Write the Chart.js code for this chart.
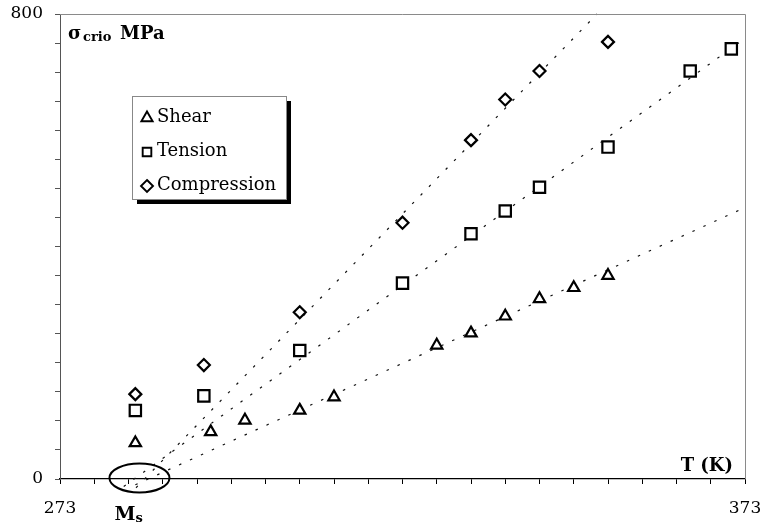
<!DOCTYPE html>
<html>
<head>
<meta charset="utf-8">
<title>σcrio vs T</title>
<script src="https://cdn.jsdelivr.net/npm/chart.js@4/dist/chart.umd.min.js"></script>
<style>
  html, body { margin: 0; padding: 0; background: #fff; }
  #wrap { width: 764px; height: 525px; }
</style>
</head>
<body>
<div id="wrap"><canvas id="stressChart"></canvas></div>
<script>
const seriesNames = ['Shear', 'Tension', 'Compression'];

const shearT = [284, 295, 300, 308, 313, 328, 333, 338, 343, 348, 353];
const shearS = [62, 81, 101, 118, 141, 230, 251, 280, 310, 329, 350];

const tensionT = [284, 294, 308, 323, 333, 338, 343, 353, 365, 371];
const tensionS = [118, 143, 221, 337, 422, 461, 502, 571, 702, 740];

const compT = [284, 294, 308, 323, 333, 338, 343, 353];
const compS = [146, 196, 287, 441, 583, 653, 702, 752];

// ends of the dotted trend lines
const shearFitT = [284, 373];
const shearFitS = [-10, 467];
const tensionFitT = [282.3, 373];
const tensionFitS = [-13, 758];
const compFitT = [284.1, 351.4];
const compFitS = [-15, 800];

const xTickLabels = [273, 373];
const yTickLabels = [0, 800];
const msT = 284.6; // Ms temperature, circled on the axis

const SERIF = '"DejaVu Serif", "Liberation Serif", serif';

function toPoints(xs, ys) {
    return xs.map((x, i) => ({ x: x, y: ys[i] }));
}

function markerSet(label, xs, ys, style, radius) {
    return {
        type: 'scatter',
        label: label,
        data: toPoints(xs, ys),
        pointStyle: style,
        pointRadius: radius,
        pointHoverRadius: radius,
        borderColor: '#000',
        backgroundColor: '#fff',
        pointBorderWidth: 2.2,
        showLine: false
    };
}

function fitSet(xs, ys) {
    return {
        type: 'line',
        label: '',
        data: toPoints(xs, ys),
        borderColor: '#111',
        borderWidth: 1.2,
        borderDash: [2.5, 9.5],
        pointRadius: 0,
        fill: false,
        clip: false
    };
}

// labels sit at the axis ends, don't let them push the plot area in
function noEdgePadding(scale) {
    scale.paddingTop = 0;
    scale.paddingBottom = 0;
    scale.paddingLeft = 0;
    scale.paddingRight = 0;
}

function drawGlyph(ctx, style, x, y, r) {
    ctx.beginPath();
    if (style === 'triangle') {
        ctx.moveTo(x, y - r);
        ctx.lineTo(x + r * 0.866, y + r * 0.5);
        ctx.lineTo(x - r * 0.866, y + r * 0.5);
        ctx.closePath();
    } else if (style === 'rect') {
        ctx.rect(x - r * 0.72, y - r * 0.72, r * 1.44, r * 1.44);
    } else {
        ctx.moveTo(x, y - r);
        ctx.lineTo(x + r, y);
        ctx.lineTo(x, y + r);
        ctx.lineTo(x - r, y);
        ctx.closePath();
    }
    ctx.fillStyle = '#fff';
    ctx.fill();
    ctx.stroke();
}

const decorPlugin = {
    id: 'decor',
    afterDraw(chart) {
        const { ctx, chartArea: a, scales } = chart;
        ctx.save();

        // light frame on top and right
        ctx.strokeStyle = '#8a8a8a';
        ctx.lineWidth = 1;
        ctx.beginPath();
        ctx.moveTo(a.left, a.top + 0.5);
        ctx.lineTo(a.right + 0.5, a.top + 0.5);
        ctx.lineTo(a.right + 0.5, a.bottom);
        ctx.stroke();

        // y title
        ctx.fillStyle = '#000';
        ctx.textBaseline = 'alphabetic';
        ctx.textAlign = 'left';
        ctx.font = 'bold 18px ' + SERIF;
        ctx.fillText('σ', 68, 39);
        ctx.font = 'bold 13px ' + SERIF;
        ctx.fillText('crio', 83, 41);
        ctx.font = 'bold 18px ' + SERIF;
        ctx.fillText('MPa', 120, 39);

        // x title
        ctx.textAlign = 'right';
        ctx.fillText('T (K)', 733, 471);

        // Ms ellipse and label
        const mx = scales.x.getPixelForValue(msT);
        const my = scales.y.getPixelForValue(0);
        ctx.strokeStyle = '#000';
        ctx.lineWidth = 2;
        ctx.beginPath();
        ctx.ellipse(mx, my - 1, 30, 14.5, 0, 0, Math.PI * 2);
        ctx.stroke();
        ctx.textAlign = 'left';
        ctx.font = 'bold 19px ' + SERIF;
        ctx.fillText('M', mx - 25, 520);
        const mw = ctx.measureText('M').width;
        ctx.font = 'bold 13px ' + SERIF;
        ctx.fillText('s', mx - 25 + mw, 522);

        // legend box with shadow
        const bx = 132, by = 96, bw = 154, bh = 103;
        ctx.fillStyle = '#000';
        ctx.fillRect(bx + 5, by + 5, bw, bh);
        ctx.fillStyle = '#fff';
        ctx.fillRect(bx, by, bw, bh);
        ctx.strokeStyle = '#888';
        ctx.lineWidth = 1;
        ctx.strokeRect(bx + 0.5, by + 0.5, bw, bh);

        const styles = ['triangle', 'rect', 'rectRot'];
        ctx.font = '18px ' + SERIF;
        ctx.textBaseline = 'middle';
        seriesNames.forEach((name, i) => {
            const cy = 117 + i * 34;
            ctx.strokeStyle = '#000';
            ctx.lineWidth = 1.9;
            drawGlyph(ctx, styles[i], 147, cy + 1, i === 0 ? 6.5 : 6);
            ctx.fillStyle = '#000';
            ctx.fillText(name, 157, cy);
        });

        ctx.restore();
    }
};

function initChart() {
    const canvas = document.getElementById('stressChart');
    if (!canvas) return;

    new Chart(canvas.getContext('2d'), {
        data: getChartData(),
        options: getChartOptions(),
        plugins: [decorPlugin]
    });
}

function getChartData() {
    return {
        datasets: [
            markerSet(seriesNames[0], shearT, shearS, 'triangle', 6.5),
            markerSet(seriesNames[1], tensionT, tensionS, 'rect', 8),
            markerSet(seriesNames[2], compT, compS, 'rectRot', 6),
            fitSet(shearFitT, shearFitS),
            fitSet(tensionFitT, tensionFitS),
            fitSet(compFitT, compFitS)
        ]
    };
}

function getChartOptions() {
    return {
        responsive: true,
        maintainAspectRatio: false,
        animation: false,
        layout: { padding: { top: 14, right: 19, left: 0, bottom: 0 } },
        plugins: {
            legend: { display: false },
            tooltip: { enabled: false }
        },
        scales: {
            x: {
                type: 'linear',
                min: 273,
                max: 373,
                afterFit: (scale) => { scale.height = 46; noEdgePadding(scale); },
                ticks: {
                    stepSize: 5,
                    autoSkip: false,
                    maxRotation: 0,
                    padding: 14,
                    color: '#000',
                    font: { family: SERIF, size: 17 },
                    callback: (v) => xTickLabels.includes(v) ? String(v) : ''
                },
                grid: { drawOnChartArea: false, tickLength: 5, color: '#000' },
                border: { color: '#000', width: 1.3 }
            },
            y: {
                type: 'linear',
                min: 0,
                max: 800,
                afterFit: (scale) => { scale.width = 60; noEdgePadding(scale); },
                ticks: {
                    stepSize: 50,
                    autoSkip: false,
                    padding: 12,
                    color: '#000',
                    font: { family: SERIF, size: 17 },
                    callback: (v) => yTickLabels.includes(v) ? String(v) : ''
                },
                grid: { drawOnChartArea: false, tickLength: 5, color: '#555' },
                border: { color: '#555', width: 1 }
            }
        }
    };
}

document.addEventListener('DOMContentLoaded', () => {
    initChart();
});
</script>
</body>
</html>
